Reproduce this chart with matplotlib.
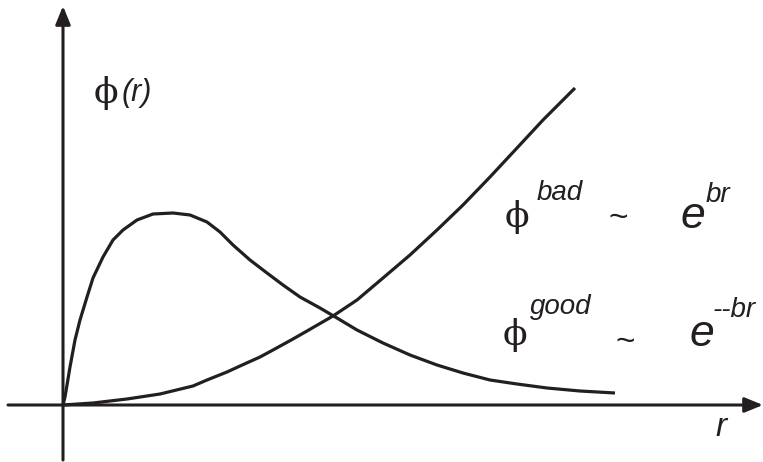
import matplotlib.pyplot as plt
import numpy as np

# curve samples (origin of the axes = 0,0)
good_r = [0, 2, 7, 12, 17, 24, 30, 40, 50, 60, 74, 90, 110, 127, 144, 157, 170, 187, 204,
          220, 237, 257, 274, 294, 320, 347, 374, 400, 427, 454, 484, 517, 552]
good_phi = [0, 8, 38, 65, 85, 108, 127, 148, 165, 175, 185, 191, 192, 190, 183, 173, 160, 145, 132,
            120, 108, 97, 87, 75, 62, 50, 40, 32, 25, 21, 17, 14, 12]

bad_r = [0, 30, 64, 97, 130, 144, 164, 177, 197, 210, 230, 244, 270, 294, 320, 347, 374, 400,
         427, 454, 480, 512]
bad_phi = [0, 2, 6, 11, 19, 25, 33, 39, 48, 55, 66, 74, 89, 105, 127, 150, 175, 200,
           228, 257, 285, 317]

ink = "#231f20"
sans = "Liberation Sans"
serif = "DejaVu Serif"

fig = plt.figure(figsize=(7.63, 4.62), dpi=100)
ax = fig.add_axes([0, 0, 1, 1])
ax.set_xlim(-63, 700)
ax.set_ylim(-57, 405)
ax.axis("off")

# axes with arrow heads
arrow = dict(arrowstyle="-|>,head_length=1.1,head_width=0.45", color=ink, lw=2.2,
             shrinkA=0, shrinkB=0)
ax.annotate("", xy=(700, 0), xytext=(-55, 0), arrowprops=arrow)
ax.annotate("", xy=(0, 399), xytext=(0, -55), arrowprops=arrow)

ax.plot(good_r, good_phi, color=ink, lw=2.3, solid_capstyle="butt", solid_joinstyle="round")
ax.plot(bad_r, bad_phi, color=ink, lw=2.3, solid_capstyle="butt", solid_joinstyle="round")

# labels
ax.text(43, 312, "\u03d5", family=serif, fontsize=26, color=ink, ha="center", va="center")
ax.text(59, 312, "(r)", family=sans, style="italic", fontsize=22, color=ink, ha="left", va="center")

ax.text(454, 188, "\u03d5", family=serif, fontsize=26, color=ink, ha="center", va="center")
ax.text(474, 212, "bad", family=sans, style="italic", fontsize=20, color=ink, ha="left", va="center")
ax.text(555, 186, "~", family=sans, fontsize=24, color=ink, ha="center", va="center")
ax.text(630, 189, "e", family=sans, style="italic", fontsize=32, color=ink, ha="center", va="center")
ax.text(643, 210, "br", family=sans, style="italic", fontsize=20, color=ink, ha="left", va="center")

ax.text(452, 70, "\u03d5", family=serif, fontsize=26, color=ink, ha="center", va="center")
ax.text(467, 98, "good", family=sans, style="italic", fontsize=20, color=ink, ha="left", va="center")
ax.text(562, 63, "~", family=sans, fontsize=24, color=ink, ha="center", va="center")
ax.text(639, 70, "e", family=sans, style="italic", fontsize=32, color=ink, ha="center", va="center")
ax.text(650, 95, "--br", family=sans, style="italic", fontsize=20, color=ink, ha="left", va="center")

ax.text(658, -23, "r", family=sans, style="italic", fontsize=24, color=ink, ha="center", va="center")

fig.savefig("out.png", dpi=100)
